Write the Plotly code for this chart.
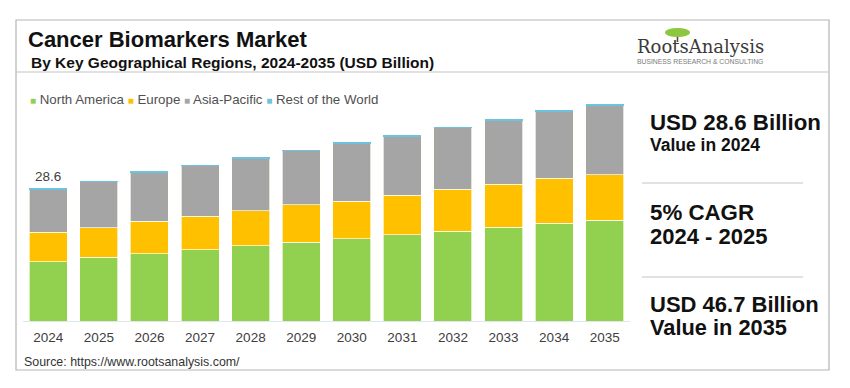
import plotly.graph_objects as go

# ---------------- data ----------------
years = ["2024", "2025", "2026", "2027", "2028", "2029",
         "2030", "2031", "2032", "2033", "2034", "2035"]
series_names = ["North America", "Europe", "Asia-Pacific", "Rest of the World"]
north_america = [12.8, 13.8, 14.5, 15.4, 16.3, 17.0, 17.8, 18.6, 19.4, 20.3, 21.1, 21.8]
europe        = [6.4, 6.3, 7.0, 7.2, 7.5, 8.1, 8.1, 8.6, 9.1, 9.2, 9.7, 9.8]
asia_pacific  = [9.3, 10.0, 10.5, 10.9, 11.3, 11.7, 12.5, 12.7, 13.3, 13.9, 14.4, 15.0]
rest_of_world = [0.1, 0.1, 0.2, 0.1, 0.2, 0.1, 0.1, 0.2, 0.1, 0.1, 0.2, 0.1]
first_year_label = "28.6"
title_text = "Cancer Biomarkers Market"
subtitle_text = "By Key Geographical Regions, 2024-2035 (USD Billion)"
summary_lines = [
    ("USD 28.6 Billion", "Value in 2024"),
    ("5% CAGR", "2024 - 2025"),
    ("USD 46.7 Billion", "Value in 2035"),
]
source_text = "Source: https://www.rootsanalysis.com/"

colors = ["#92D050", "#FFC000", "#A5A5A5", "#6CC3E0"]
series_values = [north_america, europe, asia_pacific, rest_of_world]

# ---------------- geometry helpers ----------------
W, H = 850, 388
L, R, T, B = 23, 220, 95, 67
PW, PH = W - L - R, H - T - B


def px(x):
    return (x - L) / PW


def py(y):
    return (H - B - y) / PH


FONT = "Liberation Sans, Arial, sans-serif"

fig = go.Figure()
for i, (name, vals, col) in enumerate(zip(series_names, series_values, colors)):
    lw = 0 if i == len(series_names) - 1 else 0.8
    fig.add_trace(go.Bar(
        x=years, y=vals, name=name,
        marker=dict(color=col, line=dict(color="rgba(255,255,240,0.85)", width=lw)),
        hoverinfo="skip",
    ))

totals = [sum(v) for v in zip(*series_values)]

annotations = []
# label above first bar (category index 0 = years[0])
annotations.append(dict(x=0, y=totals[0], xref="x", yref="y",
                        text=first_year_label, showarrow=False,
                        yanchor="bottom", yshift=3,
                        font=dict(family=FONT, size=13.5, color="#404040")))
# title & subtitle
annotations.append(dict(x=px(26), y=py(40), xref="paper", yref="paper",
                        text="<b>" + title_text + "</b>", showarrow=False,
                        xanchor="left", yanchor="middle",
                        font=dict(family=FONT, size=22, color="#111111")))
annotations.append(dict(x=px(29), y=py(62.5), xref="paper", yref="paper",
                        text="<b>" + subtitle_text + "</b>", showarrow=False,
                        xanchor="left", yanchor="middle",
                        font=dict(family=FONT, size=15.5, color="#111111")))
# legend
legend_parts = []
for name, col in zip(series_names, colors):
    legend_parts.append('<span style="color:%s;font-size:10px">■</span> %s' % (col, name))
annotations.append(dict(x=px(28), y=py(99), xref="paper", yref="paper",
                        text=" ".join(legend_parts), showarrow=False,
                        xanchor="left", yanchor="middle",
                        font=dict(family=FONT, size=13.3, color="#505050")))
# right summary panel
panel_y = [(122, 145), (212, 236.5), (304, 327.5)]
panel_sizes = [(22.3, 17.5), (22.3, 22), (22, 21.8)]
for (l1, l2), (y1, y2), (s1, s2) in zip(summary_lines, panel_y, panel_sizes):
    annotations.append(dict(x=px(648), y=py(y1), xref="paper", yref="paper",
                            text="<b>" + l1 + "</b>", showarrow=False,
                            xanchor="left", yanchor="middle",
                            font=dict(family=FONT, size=s1, color="#111111")))
    annotations.append(dict(x=px(648), y=py(y2), xref="paper", yref="paper",
                            text="<b>" + l2 + "</b>", showarrow=False,
                            xanchor="left", yanchor="middle",
                            font=dict(family=FONT, size=s2, color="#111111")))
# logo text
annotations.append(dict(x=px(700), y=py(47), xref="paper", yref="paper",
                        text="RootsAnalysis", showarrow=False,
                        xanchor="center", yanchor="middle",
                        font=dict(family="DejaVu Serif, serif", size=18, color="#3a3a3a")))
annotations.append(dict(x=px(700), y=py(61.5), xref="paper", yref="paper",
                        text="BUSINESS RESEARCH &amp; CONSULTING", showarrow=False,
                        xanchor="center", yanchor="middle",
                        font=dict(family=FONT, size=6.8, color="#7a7a7a")))
# source
annotations.append(dict(x=px(22), y=py(362), xref="paper", yref="paper",
                        text=source_text, showarrow=False,
                        xanchor="left", yanchor="middle",
                        font=dict(family=FONT, size=12.4, color="#333333")))

line_col = "#c4c4c4"
shapes = [
    # outer frame
    dict(type="rect", xref="paper", yref="paper", x0=px(16), x1=px(829), y0=py(20), y1=py(370),
         line=dict(color="#b5b5b5", width=1.2), fillcolor="rgba(0,0,0,0)", layer="below"),
    # line under title
    dict(type="line", xref="paper", yref="paper", x0=px(16), x1=px(829), y0=py(72), y1=py(72),
         line=dict(color=line_col, width=1.2)),
    # right panel separators
    dict(type="line", xref="paper", yref="paper", x0=px(642), x1=px(803), y0=py(183), y1=py(183),
         line=dict(color=line_col, width=1)),
    dict(type="line", xref="paper", yref="paper", x0=px(642), x1=px(803), y0=py(277), y1=py(277),
         line=dict(color=line_col, width=1)),
    # logo tree trunk and canopy
    dict(type="line", xref="paper", yref="paper", x0=px(677.5), x1=px(677.5), y0=py(34), y1=py(42),
         line=dict(color="#5e4b30", width=1.6)),
    dict(type="circle", xref="paper", yref="paper", x0=px(665), x1=px(690), y0=py(28), y1=py(37),
         line=dict(width=0), fillcolor="#8dc63f"),
]

fig.update_layout(
    width=W, height=H,
    margin=dict(l=L, r=R, t=T, b=B, pad=0),
    paper_bgcolor="white", plot_bgcolor="white",
    barmode="stack", bargap=0.25,
    showlegend=False,
    annotations=annotations,
    shapes=shapes,
    xaxis=dict(type="category", range=[-0.5, len(years) - 0.5],
               showgrid=False, zeroline=False,
               showline=True, linecolor="#dfe6ee", linewidth=1,
               ticks="", tickfont=dict(family=FONT, size=13.5, color="#404040"),
               ticklabelstandoff=4),
    yaxis=dict(range=[0, PH / 4.63], visible=False, showgrid=False, zeroline=False),
)

fig.write_html("out.html", config={"displayModeBar": False},
               post_script="document.body.style.margin='0';")
